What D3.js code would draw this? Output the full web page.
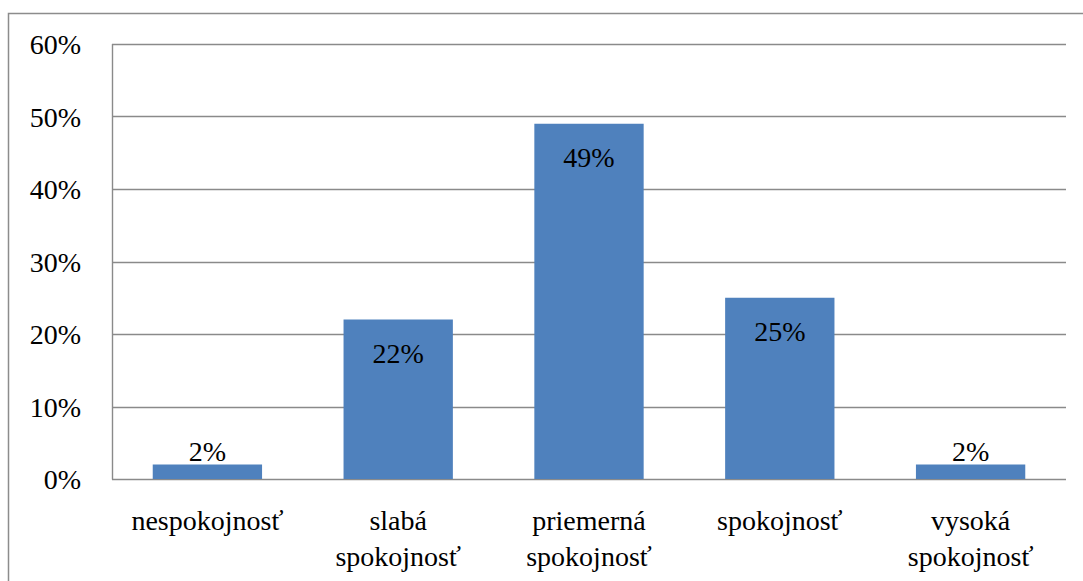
<!DOCTYPE html>
<html>
<head>
<meta charset="utf-8">
<script src="https://cdn.jsdelivr.net/npm/d3@7"></script>
</head>
<body style="margin:0">
<svg id="chart" width="1083" height="581"></svg>
<script>
// Spokojnosť respondentov (podiel v %)
const categories = [
  ["nespokojnosť"],
  ["slabá", "spokojnosť"],
  ["priemerná", "spokojnosť"],
  ["spokojnosť"],
  ["vysoká", "spokojnosť"]
];
const values = [2, 22, 49, 25, 2];
const yTicks = [0, 10, 20, 30, 40, 50, 60];

const svg = d3.select("#chart");
const plot = { left: 112, right: 1066, top: 44, bottom: 479 };
const FAMILY = "Liberation Serif";
const SIZE = 28;

// outer frame (right and bottom edges run off the canvas)
svg.append("rect")
  .attr("x", 8.5).attr("y", 13.5)
  .attr("width", 1100).attr("height", 620)
  .attr("fill", "none").attr("stroke", "#8c8c8c").attr("stroke-width", 1.5);

const keys = categories.map(c => c.join(" "));
const x = d3.scaleBand().domain(keys).range([plot.left, plot.right]).paddingInner(0.427).paddingOuter(0.2135);
const y = d3.scaleLinear().domain([0, 60]).range([plot.bottom, plot.top]);

// horizontal gridlines
svg.selectAll("line.grid").data(yTicks).join("line")
  .attr("class", "grid")
  .attr("x1", plot.left).attr("x2", plot.right)
  .attr("y1", d => Math.round(y(d)) + 0.5).attr("y2", d => Math.round(y(d)) + 0.5)
  .attr("stroke", "#8a8a8a").attr("stroke-width", 1.4);

// vertical axis line
svg.append("line")
  .attr("x1", plot.left + 0.5).attr("x2", plot.left + 0.5)
  .attr("y1", plot.top).attr("y2", Math.round(y(0)) + 0.5)
  .attr("stroke", "#8a8a8a").attr("stroke-width", 1.4);

// bars
svg.selectAll("rect.bar").data(values).join("rect")
  .attr("class", "bar")
  .attr("x", (d, i) => x(keys[i]))
  .attr("y", d => y(d))
  .attr("width", x.bandwidth())
  .attr("height", d => y(0) - y(d))
  .attr("fill", "#4f81bd");

// y tick labels
svg.selectAll("text.ytick").data(yTicks).join("text")
  .attr("class", "ytick")
  .attr("x", 81).attr("y", d => y(d) + 10)
  .attr("font-size", SIZE)
  .attr("font-family", FAMILY)
  .attr("text-anchor", "end")
  .text(d => d + "%");

// value labels: inside the top of tall bars, above short ones
svg.selectAll("text.val").data(values).join("text")
  .attr("class", "val")
  .attr("x", (d, i) => x(keys[i]) + x.bandwidth() / 2)
  .attr("y", d => (y(0) - y(d) > 40) ? y(d) + 43 : y(d) - 4)
  .attr("font-size", SIZE)
  .attr("font-family", FAMILY)
  .attr("text-anchor", "middle")
  .text(d => d + "%");

// category labels, one text element per line
const catLines = categories.flatMap((c, i) => c.map((t, j) => ({ t, i, j })));
svg.selectAll("text.cat").data(catLines).join("text")
  .attr("class", "cat")
  .attr("x", d => x(keys[d.i]) + x.bandwidth() / 2)
  .attr("y", d => 530 + d.j * 36)
  .attr("font-size", SIZE)
  .attr("font-family", FAMILY)
  .attr("text-anchor", "middle")
  .text(d => d.t);
</script>
</body>
</html>
